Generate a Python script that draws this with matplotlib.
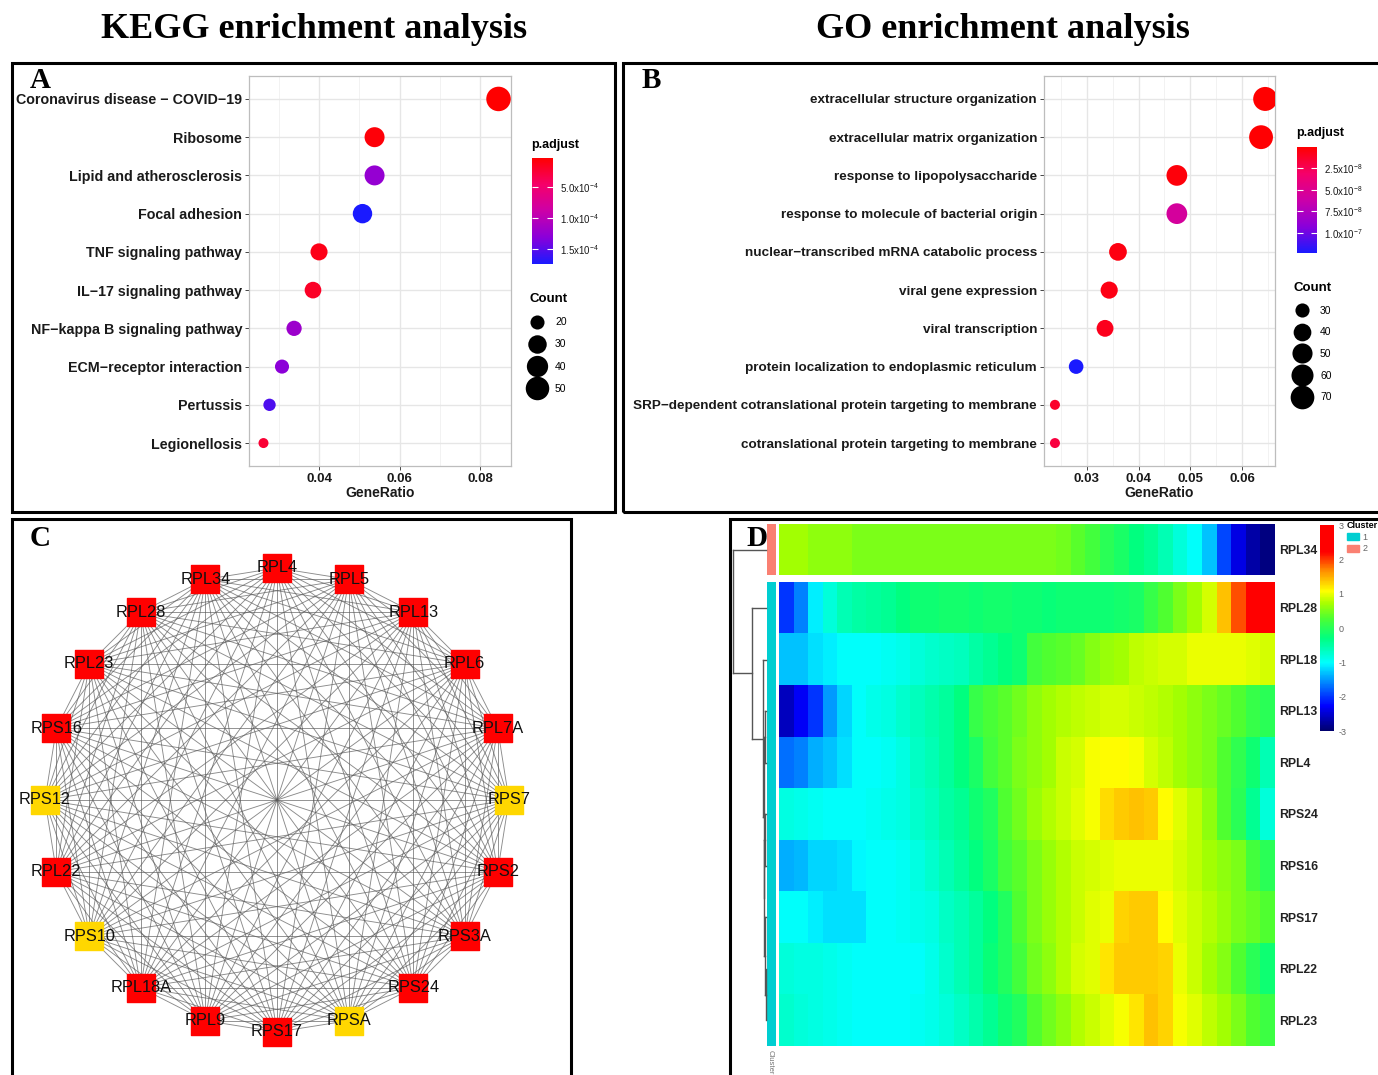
import numpy as np
import matplotlib.pyplot as plt
from matplotlib.colors import LinearSegmentedColormap, ListedColormap, Normalize
from matplotlib.patches import Rectangle, Patch
from matplotlib.lines import Line2D
from matplotlib.collections import LineCollection
import matplotlib.cm as cm

plt.rcParams['font.family'] = ['Liberation Sans', 'DejaVu Sans']
plt.rcParams['mathtext.default'] = 'regular'

W, H = 1378, 1075

# ---------------- data ----------------
# panel A: KEGG
kegg_terms = ['Coronavirus disease \u2212 COVID\u221219', 'Ribosome', 'Lipid and atherosclerosis',
              'Focal adhesion', 'TNF signaling pathway', 'IL\u221217 signaling pathway',
              'NF\u2212kappa B signaling pathway', 'ECM\u2212receptor interaction', 'Pertussis',
              'Legionellosis']
kegg_ratio = [0.0846, 0.0538, 0.0538, 0.0508, 0.0400, 0.0385, 0.0338, 0.0308, 0.0277, 0.0262]
kegg_count = [55, 35, 35, 33, 26, 25, 22, 20, 18, 17]
kegg_padj = [2.5e-6, 6e-6, 1.25e-4, 1.75e-4, 1.2e-5, 1.8e-5, 1.2e-4, 1.3e-4, 1.55e-4, 2.4e-5]
kegg_cbar_ticks = [5e-5, 1e-4, 1.5e-4]
kegg_cbar_labels = ['5.0x10$^{-4}$', '1.0x10$^{-4}$', '1.5x10$^{-4}$']
kegg_breaks = [20, 30, 40, 50]

# panel B: GO
go_terms = ['extracellular structure organization', 'extracellular matrix organization',
            'response to lipopolysaccharide', 'response to molecule of bacterial origin',
            'nuclear\u2212transcribed mRNA catabolic process', 'viral gene expression',
            'viral transcription', 'protein localization to endoplasmic reticulum',
            'SRP\u2212dependent cotranslational protein targeting to membrane',
            'cotranslational protein targeting to membrane']
go_ratio = [0.0645, 0.0637, 0.0474, 0.0474, 0.0360, 0.0343, 0.0335, 0.0279, 0.0238, 0.0238]
go_count = [72, 71, 53, 53, 40, 38, 37, 31, 26, 26]
go_padj = [8e-10, 1.5e-9, 4e-9, 5.6e-8, 6e-9, 7e-9, 9e-9, 1.23e-7, 1.3e-8, 1.9e-8]
go_cbar_ticks = [2.5e-8, 5e-8, 7.5e-8, 1e-7]
go_cbar_labels = ['2.5x10$^{-8}$', '5.0x10$^{-8}$', '7.5x10$^{-8}$', '1.0x10$^{-7}$']
go_breaks = [30, 40, 50, 60, 70]

# panel C: PPI network, clockwise from the top
net_genes = ['RPL4', 'RPL5', 'RPL13', 'RPL6', 'RPL7A', 'RPS7', 'RPS2', 'RPS3A', 'RPS24', 'RPSA',
             'RPS17', 'RPL9', 'RPL18A', 'RPS10', 'RPL22', 'RPS12', 'RPS16', 'RPL23', 'RPL28', 'RPL34']
net_yellow = ['RPS7', 'RPSA', 'RPS10', 'RPS12']

# panel D: heatmap
hm_genes = ['RPL34', 'RPL28', 'RPL18', 'RPL13', 'RPL4', 'RPS24', 'RPS16', 'RPS17', 'RPL22', 'RPL23']
hm_cluster = [2, 1, 1, 1, 1, 1, 1, 1, 1, 1]
hm_rpl34 = [0.7, 0.7, 0.6, 0.6, 0.6, 0.5, 0.5, 0.5, 0.5, 0.5, 0.5, 0.5, 0.5, 0.5, 0.5, 0.5, 0.5,
            0.5, 0.5, 0.45, 0.35, 0.2, 0.0, -0.1, -0.3, -0.4, -0.6, -0.8, -1.0, -1.3, -1.9, -2.4,
            -2.7, -2.9]
hm_rpl28 = [-2.0, -1.6, -1.1, -0.8, -0.6, -0.5, -0.45, -0.4, -0.3, -0.2, -0.2, -0.15, -0.15,
            -0.2, -0.15, -0.15, -0.2, -0.2, -0.25, -0.2, -0.2, -0.2, -0.2, -0.15, -0.1, 0.1, 0.3,
            0.5, 0.7, 0.9, 1.4, 1.9, 2.4, 2.6]
hm_rpl18 = [-1.3, -1.3, -1.15, -1.1, -1.0, -1.0, -1.0, -0.95, -0.9, -0.8, -0.75, -0.7, -0.65,
            -0.5, -0.4, -0.3, -0.2, 0.2, 0.3, 0.35, 0.4, 0.55, 0.65, 0.7, 0.8, 0.85, 0.9, 0.9,
            1.0, 1.0, 1.0, 1.0, 0.95, 0.9]
hm_rpl13 = [-2.6, -2.3, -2.0, -1.5, -1.2, -1.0, -0.9, -0.85, -0.75, -0.65, -0.55, -0.45, -0.3,
            0.1, 0.25, 0.35, 0.45, 0.6, 0.7, 0.75, 0.8, 0.85, 0.9, 0.9, 0.85, 0.8, 0.75, 0.7,
            0.6, 0.5, 0.4, 0.3, 0.1, 0.0]
hm_rpl4 = [-1.7, -1.6, -1.4, -1.3, -1.15, -1.0, -1.0, -0.95, -0.85, -0.7, -0.6, -0.45, -0.3,
           -0.1, 0.2, 0.35, 0.5, 0.6, 0.7, 0.85, 0.9, 1.05, 1.1, 1.1, 1.05, 0.9, 0.8, 0.7, 0.6,
           0.5, 0.3, 0.05, -0.2, -0.6]
hm_rps24 = [-0.85, -0.9, -0.95, -1.0, -1.0, -1.0, -0.95, -0.9, -0.85, -0.75, -0.65, -0.5, -0.4,
            -0.2, -0.05, 0.3, 0.45, 0.65, 0.75, 0.85, 0.95, 1.05, 1.25, 1.35, 1.4, 1.35, 1.1,
            0.95, 0.8, 0.6, 0.3, 0.0, -0.4, -0.8]
hm_rps16 = [-1.4, -1.35, -1.2, -1.2, -1.15, -1.05, -1.0, -1.0, -0.95, -0.85, -0.75, -0.6, -0.45,
            -0.3, -0.1, 0.2, 0.35, 0.5, 0.65, 0.75, 0.85, 0.9, 0.95, 1.0, 1.0, 1.0, 1.0, 0.9,
            0.8, 0.7, 0.6, 0.5, 0.2, 0.0]
hm_rps17 = [-1.0, -1.0, -1.1, -1.15, -1.15, -1.15, -1.0, -1.0, -0.95, -0.9, -0.85, -0.7, -0.6,
            -0.45, -0.3, -0.05, 0.3, 0.5, 0.65, 0.75, 0.85, 0.95, 1.0, 1.3, 1.35, 1.35, 1.1,
            0.95, 0.85, 0.75, 0.65, 0.5, 0.4, 0.3]
hm_rpl22 = [-0.8, -0.85, -0.85, -0.9, -0.95, -1.0, -1.0, -1.0, -1.0, -1.0, -0.9, -0.75, -0.6,
            -0.45, -0.25, -0.05, 0.2, 0.45, 0.6, 0.75, 0.9, 0.95, 1.2, 1.35, 1.35, 1.35, 1.3,
            1.0, 0.85, 0.7, 0.55, 0.3, 0.0, -0.2]
hm_rpl23 = [-0.75, -0.8, -0.85, -0.9, -0.95, -1.0, -1.0, -1.0, -1.0, -0.95, -0.9, -0.8, -0.7,
            -0.55, -0.4, -0.2, -0.05, 0.3, 0.45, 0.6, 0.75, 0.85, 0.95, 1.05, 1.2, 1.4, 1.3,
            1.05, 0.95, 0.8, 0.7, 0.5, 0.3, 0.15]
# row dendrogram merges (left, right, height); ids >= 10 are earlier merges
hm_merges = [(8, 9, 0.015), (7, 10, 0.035), (5, 6, 0.02), (12, 11, 0.05), (3, 4, 0.03),
             (14, 13, 0.06), (2, 15, 0.09), (1, 16, 0.42), (0, 17, 1.0)]

# ---------------- figure ----------------
fig = plt.figure(figsize=(W / 100, H / 100), dpi=100)


def box(x0, y0, x1, y1):
    return [x0 / W, 1 - y1 / H, (x1 - x0) / W, (y1 - y0) / H]


def fx(x):
    return x / W


def fy(y):
    return 1 - y / H


pcmap = LinearSegmentedColormap.from_list(
    'padj', ['#FF0000', '#F5006A', '#CC00A8', '#8A00DA', '#1A1AFF'])


def dot_d(c, cmin, cmax, dmin, dmax):
    c = np.asarray(c, dtype=float)
    return dmin + (dmax - dmin) * np.sqrt(np.clip((c - cmin) / (cmax - cmin), 0, 1))


def dotplot(rect, terms, ratio, count, padj, xlim, xticks, xminor, cbar_rect, cticks, clabels,
            breaks, ptitle_xy, count_xy, drange, yfont, lspace):
    ax = fig.add_axes(box(*rect))
    y = np.arange(len(terms), 0, -1)
    norm = Normalize(min(padj), max(padj))
    cmin, cmax = min(count), max(count)
    d = dot_d(count, cmin, cmax, *drange)
    ax.scatter(ratio, y, s=(d * 0.72) ** 2, c=padj, cmap=pcmap, norm=norm,
               linewidths=0, zorder=3)
    ax.set_ylim(0.4, len(terms) + 0.6)
    ax.set_yticks(y)
    ax.set_yticklabels(terms, fontsize=yfont, fontweight='bold', color='#1a1a1a')
    ax.set_xlim(*xlim)
    ax.set_xticks(xticks)
    ax.set_xticklabels(['%.2f' % t for t in xticks], fontsize=9.5, fontweight='bold',
                       color='#1a1a1a')
    ax.set_xticks(xminor, minor=True)
    ax.grid(True, which='major', color='#E6E6E6', lw=1.0)
    ax.grid(True, which='minor', axis='x', color='#F2F2F2', lw=0.7)
    ax.set_axisbelow(True)
    for sp in ax.spines.values():
        sp.set_color('#BDBDBD')
        sp.set_linewidth(0.9)
    ax.tick_params(which='major', color='#444444', length=3, width=0.7, pad=2)
    ax.tick_params(which='minor', length=0)
    ax.set_xlabel('GeneRatio', fontsize=10, fontweight='bold', color='#1a1a1a', labelpad=1)

    cax = fig.add_axes(box(*cbar_rect))
    cb = fig.colorbar(cm.ScalarMappable(norm=norm, cmap=pcmap), cax=cax)
    cb.outline.set_visible(False)
    cax.invert_yaxis()
    cb.set_ticks(cticks)
    cb.set_ticklabels(clabels)
    cax.yaxis.set_ticks_position('both')
    cax.tick_params(direction='in', color='white', length=4, width=0.8, labelsize=7,
                    labelcolor='#1a1a1a', pad=5)
    fig.text(fx(ptitle_xy[0]), fy(ptitle_xy[1]), 'p.adjust', fontsize=9, fontweight='bold',
             va='center', ha='left')

    hd = dot_d(breaks, cmin, cmax, *drange)
    handles = [Line2D([], [], ls='', marker='o', ms=dd * 0.72, color='black', mew=0)
               for dd in hd]
    ax.legend(handles, [str(b) for b in breaks], title='Count', loc='upper left',
              bbox_to_anchor=(fx(count_xy[0]), fy(count_xy[1])), bbox_transform=fig.transFigure,
              frameon=False, fontsize=7.5, title_fontproperties={'weight': 'bold', 'size': 9.5},
              alignment='left', labelspacing=lspace, handletextpad=0.9, borderpad=0,
              borderaxespad=0, handlelength=1.6)
    return ax


dotplot((249, 76, 511, 466), kegg_terms, kegg_ratio, kegg_count, kegg_padj,
        (0.0226, 0.0877), [0.04, 0.06, 0.08], [0.03, 0.05, 0.07],
        (532, 158, 553, 264), kegg_cbar_ticks, kegg_cbar_labels, kegg_breaks,
        (531, 145), (529, 293), (10, 24.5), 10.3, 1.17)

dotplot((1044, 76, 1275, 466), go_terms, go_ratio, go_count, go_padj,
        (0.02168, 0.0664), [0.03, 0.04, 0.05, 0.06], [0.025, 0.035, 0.045, 0.055, 0.065],
        (1297, 147, 1317, 253), go_cbar_ticks, go_cbar_labels, go_breaks,
        (1296, 133), (1294, 282), (10, 24), 9.7, 1.12)

# ---------------- panel C: network ----------------
R, cx, cy = 232.0, 277.0, 800.0
axc = fig.add_axes(box(14, 521, 569, 1075))
axc.set_xlim((14 - cx) / R, (569 - cx) / R)
axc.set_ylim(-(1075 - cy) / R, (cy - 521) / R)
axc.axis('off')
n = len(net_genes)
ang = np.deg2rad(90 - 360.0 * np.arange(n) / n)
nx, ny = np.cos(ang), np.sin(ang)
segs = [[(nx[i], ny[i]), (nx[j], ny[j])] for i in range(n) for j in range(i + 1, n)]
axc.add_collection(LineCollection(segs, colors='#5a5a5a', linewidths=0.65, alpha=0.7, zorder=1))
ncol = ['#FFD700' if g in net_yellow else '#FF0000' for g in net_genes]
axc.scatter(nx, ny, s=(28 * 0.72) ** 2, marker='s', c=ncol, edgecolors=ncol, zorder=2)
for g, x, y in zip(net_genes, nx, ny):
    axc.text(x, y, g, fontsize=11.8, ha='center', va='center', color='#111111', zorder=3)

# ---------------- panel D: heatmap ----------------
hm = np.array([hm_rpl34, hm_rpl28, hm_rpl18, hm_rpl13, hm_rpl4, hm_rps24, hm_rps16, hm_rps17,
               hm_rpl22, hm_rpl23])
hcmap = LinearSegmentedColormap.from_list('hm', [
    (0.0, '#00006E'), (0.12, '#0000FF'), (0.23, '#0080FF'), (0.33, '#00FFFF'),
    (0.45, '#00FF80'), (0.55, '#50FF30'), (0.62, '#A8FF00'), (0.68, '#FFFF00'),
    (0.78, '#FF8C00'), (0.87, '#FF0000'), (1.0, '#FF0000')])
ccmap = ListedColormap(['#00CED1', '#FA8072'])
clus = np.array(hm_cluster)[:, None]

for (y0, y1), rows in [((524, 575), slice(0, 1)), ((582, 1046), slice(1, 10))]:
    axh = fig.add_axes(box(779, y0, 1275, y1))
    axh.imshow(hm[rows], aspect='auto', cmap=hcmap, vmin=-3, vmax=3, interpolation='nearest')
    axh.set_xticks([])
    axh.yaxis.tick_right()
    axh.set_yticks(range(hm[rows].shape[0]))
    axh.set_yticklabels(hm_genes[rows], fontsize=8.8, fontweight='bold', color='#222222')
    axh.tick_params(length=0, pad=3)
    for sp in axh.spines.values():
        sp.set_visible(False)
    axa = fig.add_axes(box(767, y0, 776, y1))
    axa.imshow(clus[rows], aspect='auto', cmap=ccmap, vmin=1, vmax=2, interpolation='nearest')
    axa.axis('off')

# dendrogram
gap = 7 / 51.5
axd = fig.add_axes(box(733, 524, 766, 1046))
axd.set_xlim(1.0, 0.0)
axd.set_ylim(10 + gap, 0)
axd.axis('off')
pos = {i: (0.5 if i == 0 else 1 + gap + i - 0.5) for i in range(len(hm_genes))}
hgt = {i: 0.0 for i in range(len(hm_genes))}
for k, (a, b, h) in enumerate(hm_merges):
    for c in (a, b):
        axd.plot([hgt[c], h], [pos[c], pos[c]], color='#555555', lw=1.0, clip_on=False)
    axd.plot([h, h], [pos[a], pos[b]], color='#555555', lw=1.0, clip_on=False)
    nid = len(hm_genes) + k
    pos[nid] = (pos[a] + pos[b]) / 2
    hgt[nid] = h

# heatmap colour key
kax = fig.add_axes(box(1320, 525, 1334, 731))
kb = fig.colorbar(cm.ScalarMappable(norm=Normalize(-3, 3), cmap=hcmap), cax=kax)
kb.outline.set_visible(False)
kb.set_ticks([-3, -2, -1, 0, 1, 2, 3])
kb.set_ticklabels(['-3', '-2', '-1', '0', '1', '2', '3'])
kax.tick_params(length=0, labelsize=6.5, labelcolor='#666666', pad=3)

axh.legend([Patch(color='#00CED1'), Patch(color='#FA8072')], ['1', '2'], title='Cluster',
           loc='upper left', bbox_to_anchor=(fx(1347), fy(521)), bbox_transform=fig.transFigure,
           frameon=False, fontsize=6.5, title_fontproperties={'weight': 'bold', 'size': 6.5},
           alignment='left', handlelength=1.3, handleheight=0.9, handletextpad=0.4,
           labelspacing=0.3, borderpad=0, borderaxespad=0, labelcolor='#666666')
fig.text(fx(767), fy(1050), 'Cluster', rotation=270, fontsize=5.5, color='#777777',
         ha='left', va='top')

# ---------------- titles, letters, frames ----------------
fig.text(fx(314), fy(30), 'KEGG enrichment analysis', fontsize=26, fontweight='bold',
         family='Liberation Serif', ha='center', va='center')
fig.text(fx(1003), fy(30), 'GO enrichment analysis', fontsize=26, fontweight='bold',
         family='Liberation Serif', ha='center', va='center')
for letter, (x, y) in zip('ABCD', [(40, 80), (651, 80), (40, 538), (757, 538)]):
    fig.text(fx(x), fy(y), letter, fontsize=21, fontweight='bold', family='Liberation Serif',
             ha='center', va='center', zorder=6)
for x0, y0, x1, y1 in [(12, 63, 615, 512), (623, 63, 1384, 512), (12, 519, 571, 1082),
                       (730, 519, 1384, 1082)]:
    fig.add_artist(Rectangle((fx(x0), fy(y1)), (x1 - x0) / W, (y1 - y0) / H,
                             transform=fig.transFigure, fill=False, lw=2.2, ec='black',
                             zorder=5))

fig.savefig('out.png', dpi=100)
